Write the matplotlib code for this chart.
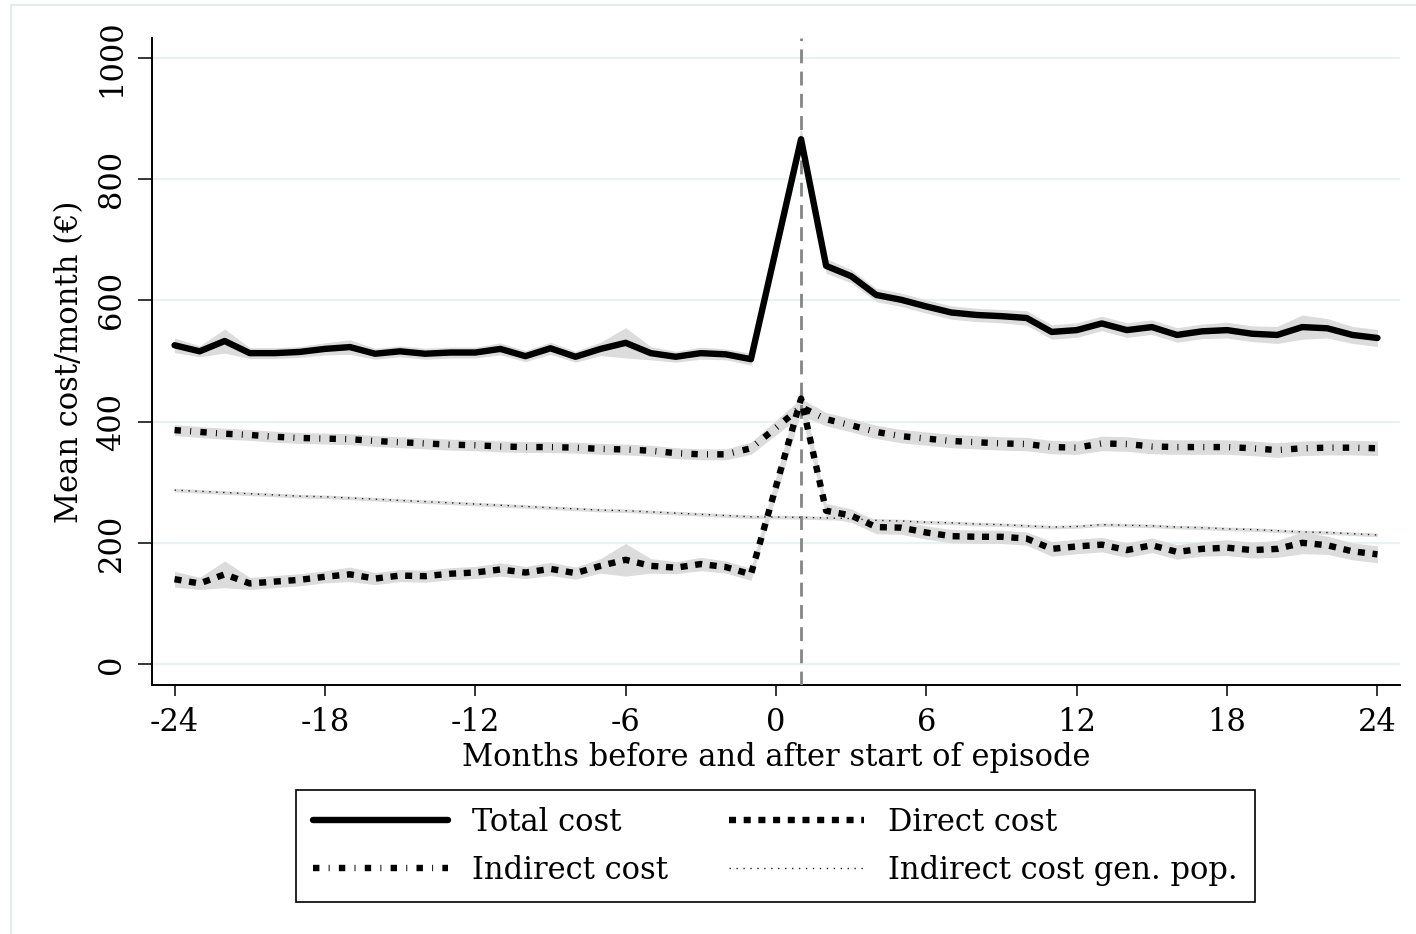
import matplotlib
matplotlib.use("Agg")
import matplotlib.pyplot as plt
from matplotlib.lines import Line2D
import numpy as np

plt.rcParams['font.family'] = ['DejaVu Serif']
plt.rcParams['axes.unicode_minus'] = False

months = list(range(-24, 0)) + list(range(1, 25))

total = [526, 516, 533, 513, 513, 515, 520, 523, 512, 516, 512, 514, 514, 520, 508, 521, 507, 520, 530, 513, 507, 513, 511, 503,
         866, 657, 640, 609, 601, 590, 580, 576, 574, 571, 548, 551, 562, 551, 556, 543, 549, 551, 545, 543, 556, 554, 543, 538]
indirect = [386, 383, 380, 378, 375, 373, 372, 371, 368, 366, 364, 362, 361, 359, 358, 358, 357, 355, 354, 352, 348, 346, 346, 356,
            424, 404, 394, 383, 376, 372, 368, 366, 364, 363, 358, 357, 364, 363, 359, 358, 358, 358, 356, 353, 356, 357, 357, 356]
direct = [140, 133, 148, 133, 136, 139, 144, 148, 141, 146, 145, 149, 151, 156, 151, 157, 150, 162, 172, 162, 159, 165, 160, 148,
          438, 253, 245, 226, 225, 217, 211, 210, 210, 207, 190, 194, 197, 188, 196, 185, 190, 192, 188, 190, 200, 196, 186, 181]
genpop = [287, 285, 283, 281, 279, 277, 276, 274, 272, 270, 268, 266, 264, 262, 260, 258, 256, 254, 253, 251, 249, 247, 245, 243,
          242, 241, 240, 237, 236, 234, 233, 231, 230, 228, 226, 227, 230, 229, 228, 226, 225, 223, 222, 220, 218, 217, 215, 213]

# confidence-band half widths
total_ci = [12, 9, 20, 9, 9, 9, 10, 12, 9, 9, 9, 9, 9, 10, 9, 10, 9, 11, 25, 11, 9, 10, 9, 10,
            20, 12, 11, 11, 11, 11, 11, 11, 11, 12, 12, 12, 12, 12, 12, 12, 12, 13, 13, 14, 20, 16, 14, 14]
direct_ci = [13, 10, 22, 10, 10, 10, 10, 12, 10, 10, 10, 10, 10, 11, 10, 11, 10, 12, 27, 12, 10, 11, 10, 10,
             22, 12, 11, 11, 11, 11, 11, 11, 11, 11, 12, 12, 12, 12, 12, 12, 12, 13, 13, 14, 18, 15, 14, 14]
indirect_ci = [9, 9, 9, 9, 9, 9, 9, 9, 9, 9, 9, 9, 9, 9, 9, 9, 9, 9, 9, 9, 9, 9, 9, 10,
               14, 11, 11, 11, 11, 11, 11, 11, 11, 11, 11, 11, 12, 12, 12, 12, 12, 12, 12, 12, 12, 12, 12, 12]
genpop_ci = [3, 3, 3, 3, 3, 3, 3, 3, 3, 3, 3, 3, 3, 3, 3, 3, 3, 3, 3, 3, 3, 3, 3, 3,
             3, 3, 3, 3, 3, 3, 3, 3, 3, 3, 3, 3, 3, 3, 3, 3, 3, 3, 3, 3, 3, 3, 3, 3]

labels = ["Total cost", "Indirect cost", "Direct cost", "Indirect cost gen. pop."]
xticks = [-24, -18, -12, -6, 0, 6, 12, 18, 24]
yticks = [0, 200, 400, 600, 800, 1000]

FS = 22
W, H = 1416, 934
fig = plt.figure(figsize=(W / 100, H / 100), dpi=100)
ax = fig.add_axes([152 / W, 1 - 685 / H, (1400 - 152) / W, (685 - 38) / H])

x = np.array(months)
band = '#dcdcdc'
for s, ci in [(total, total_ci), (indirect, indirect_ci), (direct, direct_ci), (genpop, genpop_ci)]:
    s = np.array(s, float); ci = np.array(ci, float)
    ax.fill_between(x, s - ci, s + ci, color=band, lw=0, zorder=2)

lw = 4.6
h_tot, = ax.plot(x, total, color='black', lw=lw, solid_joinstyle='round', solid_capstyle='round', zorder=5)
h_ind, = ax.plot(x, indirect, color='black', lw=lw, linestyle=(0, (1.0, 1.45, 0.15, 1.45)),
                 dash_capstyle='butt', zorder=5)
h_dir, = ax.plot(x, direct, color='black', lw=lw, linestyle=(0, (1.1, 1.2)), dash_capstyle='butt', zorder=5)
h_gen, = ax.plot(x, genpop, color='#222222', lw=1.0, linestyle=(0, (1, 4)), zorder=5)

ax.axvline(1, color='#858585', lw=2.0, linestyle=(0, (5, 3)), zorder=4)

ax.set_xlim(-24.9, 24.9)
ax.set_ylim(-34.6, 1033)
ax.set_xticks(xticks)
ax.set_xticklabels([str(t) for t in xticks])
ax.set_yticks(yticks)
ax.set_yticklabels([str(t) for t in yticks], rotation=90, va='center')
for yv in yticks:
    ax.axhline(yv, color='#e9f1f2', lw=1.6, zorder=1)

for sp in ['top', 'right']:
    ax.spines[sp].set_visible(False)
for sp in ['left', 'bottom']:
    ax.spines[sp].set_linewidth(1.4)
ax.tick_params(axis='x', length=8, width=1.1, pad=8, labelsize=FS)
ax.tick_params(axis='y', length=10, width=1.1, pad=8, labelsize=FS)
ax.set_xlabel("Months before and after start of episode", fontsize=FS, labelpad=3)
ax.set_ylabel("Mean cost/month (€)", fontsize=FS, labelpad=8)

leg = fig.legend([h_tot, h_ind, h_dir, h_gen], labels, ncol=2, loc='upper center',
                 bbox_to_anchor=(775.5 / W, 1 - 790 / H), fontsize=FS, frameon=True,
                 fancybox=False, framealpha=1, edgecolor='black', handlelength=4.4,
                 handletextpad=0.8, columnspacing=2.0, labelspacing=0.55, borderpad=0.55,
                 borderaxespad=0)
leg.get_frame().set_linewidth(1.2)

fig.add_artist(Line2D([11 / W, 1], [1 - 5 / H, 1 - 5 / H], color='#e6ecee', lw=1.5))
fig.add_artist(Line2D([11 / W, 11 / W], [0, 1 - 5 / H], color='#e6ecee', lw=1.5))

fig.savefig("out.png", dpi=100)
